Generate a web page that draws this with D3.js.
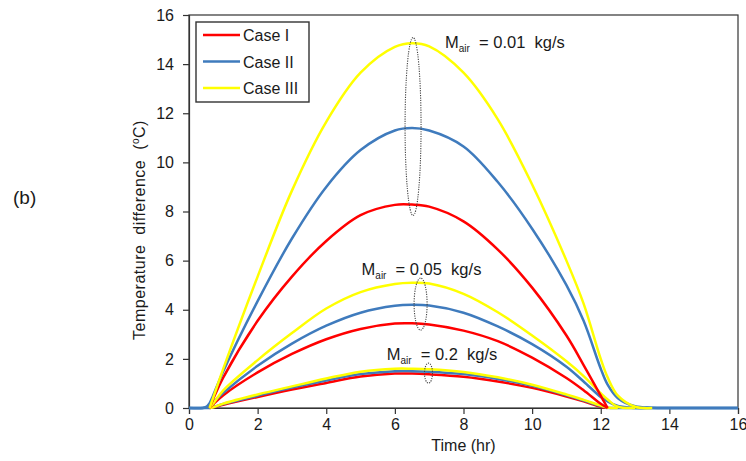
<!DOCTYPE html>
<html>
<head>
<meta charset="utf-8">
<script src="https://cdn.jsdelivr.net/npm/d3@7"></script>
<style>
  body { margin: 0; background: #fff; }
  text { font-family: Arial, "Liberation Sans", sans-serif; fill: #1a1a1a; }
</style>
</head>
<body>
<div id="chart-area"></div>
<script>
const width = 746;
const height = 461;
const margin = {left: 189, top: 15, right: 8, bottom: 53};

// time grid (hr)
const hours = [0, 0.4, 0.5, 0.6, 0.7, 1, 2, 3, 4, 5, 6, 6.5, 7, 8, 9, 10, 11, 11.5, 12, 12.2, 12.5, 13, 13.5, 14, 16];

// Mair = 0.01 kg/s
const caseI_001   = [0, 0, 0, 0, 0.35, 1.25, 3.55, 5.35, 6.8, 7.85, 8.27, 8.28, 8.2, 7.6, 6.45, 4.9, 2.95, 1.75, 0.5, 0, 0, 0, 0, 0, 0];
const caseII_001  = [0, 0, 0.05, 0.2, 0.5, 1.5, 4.35, 6.9, 9.0, 10.5, 11.3, 11.4, 11.3, 10.65, 9.2, 7.3, 5.0, 3.55, 1.6, 0.95, 0.4, 0.07, 0.01, 0, 0];
const caseIII_001 = [0, 0, 0, 0, 0.4, 1.6, 5.35, 8.85, 11.65, 13.65, 14.7, 14.85, 14.72, 13.65, 11.75, 9.1, 6.0, 4.25, 2.0, 1.25, 0.5, 0.05, 0, 0, 0];

// Mair = 0.05 kg/s
const caseI_005   = [0, 0, 0, 0, 0.14, 0.52, 1.45, 2.2, 2.8, 3.22, 3.44, 3.45, 3.4, 3.15, 2.72, 2.05, 1.22, 0.72, 0.17, 0, 0, 0, 0, 0, 0];
const caseII_005  = [0, 0, 0.02, 0.08, 0.22, 0.62, 1.72, 2.62, 3.35, 3.88, 4.16, 4.2, 4.17, 3.88, 3.32, 2.6, 1.68, 1.08, 0.45, 0.27, 0.08, 0, 0, 0, 0];
const caseIII_005 = [0, 0, 0, 0, 0.17, 0.72, 1.95, 3.05, 4.05, 4.72, 5.05, 5.1, 5.07, 4.65, 3.9, 2.95, 1.9, 1.3, 0.6, 0.35, 0.05, 0, 0, 0, 0];

// Mair = 0.2 kg/s
const caseI_02    = [0, 0, 0, 0, 0.02, 0.13, 0.45, 0.75, 1.02, 1.28, 1.4, 1.4, 1.37, 1.27, 1.08, 0.82, 0.47, 0.27, 0.05, 0, 0, 0, 0, 0, 0];
const caseII_02   = [0, 0, 0, 0, 0.03, 0.16, 0.5, 0.83, 1.12, 1.38, 1.5, 1.5, 1.48, 1.38, 1.18, 0.9, 0.52, 0.3, 0.08, 0.01, 0, 0, 0, 0, 0];
const caseIII_02  = [0, 0, 0, 0, 0.03, 0.18, 0.55, 0.88, 1.2, 1.48, 1.6, 1.6, 1.58, 1.47, 1.25, 0.95, 0.55, 0.33, 0.1, 0.02, 0, 0, 0, 0, 0];

const caseNames = ["Case I", "Case II", "Case III"];
const caseColors = ["#ff0000", "#3f7bbd", "#ffff00"];
const xTicks = [0, 2, 4, 6, 8, 10, 12, 14, 16];
const yTicks = [0, 2, 4, 6, 8, 10, 12, 14, 16];
const flowLabels = ["0.01", "0.05", "0.2"];

const svg = d3.select("#chart-area")
    .append("svg")
    .attr("width", width)
    .attr("height", height);

const innerWidth = width - margin.left - margin.right;
const innerHeight = height - margin.top - margin.bottom;

const g = svg.append("g")
    .attr("transform", `translate(${margin.left},${margin.top})`);

const x = d3.scaleLinear().domain([0, 16]).range([0, innerWidth]);
const y = d3.scaleLinear().domain([0, 16]).range([innerHeight, 0]);

// frame
g.append("rect")
    .attr("width", innerWidth)
    .attr("height", innerHeight)
    .attr("fill", "none")
    .attr("stroke", "#333")
    .attr("stroke-width", 1.2);

// axes
const xAxis = g.append("g")
    .attr("transform", `translate(0,${innerHeight})`)
    .call(d3.axisBottom(x).tickValues(xTicks).tickSize(6).tickPadding(5));
const yAxis = g.append("g")
    .call(d3.axisLeft(y).tickValues(yTicks).tickSize(6).tickPadding(9));

[xAxis, yAxis].forEach(a => {
    a.selectAll("path, line").attr("stroke", "#333").attr("stroke-width", 1.2);
    a.selectAll("text").attr("font-size", 16).attr("font-family", "Arial, 'Liberation Sans', sans-serif").attr("fill", "#1a1a1a");
});

// axis titles
g.append("text")
    .attr("x", innerWidth / 2)
    .attr("y", innerHeight + 43)
    .attr("text-anchor", "middle")
    .attr("font-size", 16)
    .text("Time (hr)");

const yLabel = g.append("text")
    .attr("transform", "translate(-44,215) rotate(-90)")
    .attr("text-anchor", "middle")
    .attr("font-size", 16)
    .attr("letter-spacing", 0.5)
    .attr("xml:space", "preserve");
yLabel.append("tspan").text("Temperature  difference  (");
yLabel.append("tspan").attr("font-size", 10).attr("dy", -6).text("o");
yLabel.append("tspan").attr("dy", 6).text("C)");

// curves
const groups = [
    [caseI_001, caseII_001, caseIII_001],
    [caseI_005, caseII_005, caseIII_005],
    [caseI_02, caseII_02, caseIII_02]
];

const curves = g.append("g");
[2, 1, 0].forEach(gi => {
    groups[gi].forEach((vals, ci) => {
        // blue series runs along the whole axis, others only where non-zero
        const line = d3.line()
            .defined((d, i) => ci === 1 || d > 0 || vals[i - 1] > 0 || vals[i + 1] > 0)
            .x((d, i) => x(hours[i]))
            .y(d => y(d))
            .curve(d3.curveCatmullRom.alpha(0.5));
        curves.append("path")
            .datum(vals)
            .attr("d", line)
            .attr("fill", "none")
            .attr("stroke", caseColors[ci])
            .attr("stroke-width", 2.5)
            .attr("stroke-linejoin", "round");
    });
});

// dotted ellipses
const ellipses = [
    {cx: 6.53, cy: 11.46, rx: 8, ry: 89},
    {cx: 6.75, cy: 4.23, rx: 6.5, ry: 26},
    {cx: 6.98, cy: 1.42, rx: 4, ry: 10}
];
ellipses.forEach(e => {
    g.append("ellipse")
        .attr("cx", x(e.cx))
        .attr("cy", y(e.cy))
        .attr("rx", e.rx)
        .attr("ry", e.ry)
        .attr("fill", "none")
        .attr("stroke", "#444")
        .attr("stroke-width", 1.1)
        .attr("stroke-dasharray", "1.2,1.2");
});

// flow labels
const labelPos = [
    {t: 7.46, v: 14.66},
    {t: 5.03, v: 5.41},
    {t: 5.76, v: 1.95}
];
labelPos.forEach((p, i) => {
    const txt = g.append("text")
        .attr("x", x(p.t))
        .attr("y", y(p.v))
        .attr("font-size", 16.5)
        .attr("xml:space", "preserve");
    txt.append("tspan").text("M");
    txt.append("tspan").attr("font-size", 10).attr("dy", 4).text("air");
    txt.append("tspan").attr("dy", -4).text(`  = ${flowLabels[i]}  kg/s`);
});

// legend
const legend = g.append("g").attr("transform", "translate(7,7)");
legend.append("rect")
    .attr("width", 113)
    .attr("height", 80)
    .attr("fill", "#fff")
    .attr("stroke", "#333")
    .attr("stroke-width", 1.4);
caseNames.forEach((name, i) => {
    const ly = 13 + i * 26.5;
    legend.append("line")
        .attr("x1", 7).attr("x2", 44)
        .attr("y1", ly).attr("y2", ly)
        .attr("stroke", caseColors[i])
        .attr("stroke-width", 2.5);
    legend.append("text")
        .attr("x", 47)
        .attr("y", ly + 6)
        .attr("font-size", 16)
        .text(name);
});

// panel tag
svg.append("text")
    .attr("x", 13)
    .attr("y", 204)
    .attr("font-family", "'Liberation Serif', 'Times New Roman', serif")
    .attr("font-size", 19)
    .text("(b)");
</script>
</body>
</html>
